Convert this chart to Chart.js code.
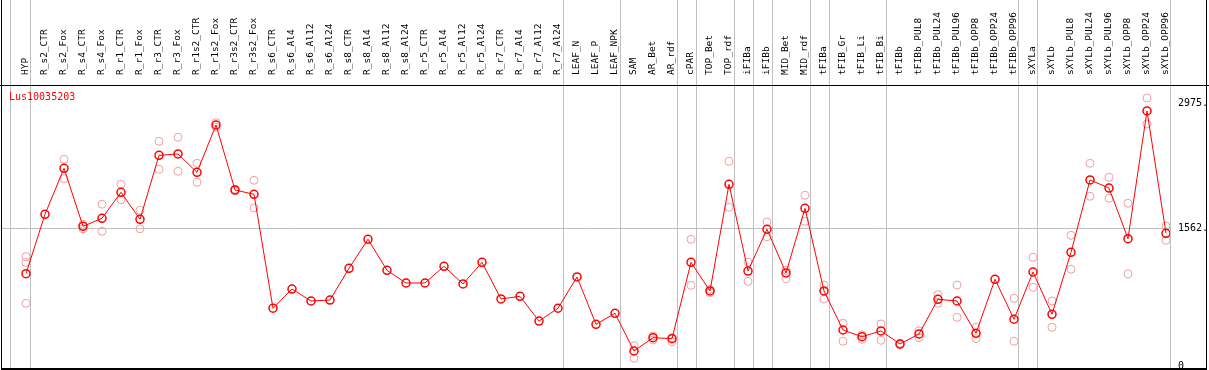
<!DOCTYPE html>
<html>
<head>
<meta charset="utf-8">
<script src="https://cdn.jsdelivr.net/npm/chart.js@4"></script>
<style>
  html, body { margin: 0; padding: 0; background: #fff; }
  #chart { display: block; }
</style>
</head>
<body>
<canvas id="chart" width="1209" height="370"></canvas>
<script>
// названия образцов (ось сверху)
const categories = [
  "HYP", "R_s2_CTR", "R_s2_Fox", "R_s4_CTR", "R_s4_Fox", "R_r1_CTR", "R_r1_Fox",
  "R_r3_CTR", "R_r3_Fox", "R_r1s2_CTR", "R_r1s2_Fox", "R_r3s2_CTR", "R_r3s2_Fox",
  "R_s6_CTR", "R_s6_Al4", "R_s6_Al12", "R_s6_Al24", "R_s8_CTR", "R_s8_Al4",
  "R_s8_Al12", "R_s8_Al24", "R_r5_CTR", "R_r5_Al4", "R_r5_Al12", "R_r5_Al24",
  "R_r7_CTR", "R_r7_Al4", "R_r7_Al12", "R_r7_Al24", "LEAF_N", "LEAF_P", "LEAF_NPK",
  "SAM", "AR_Bet", "AR_rdf", "cPAR", "TOP_Bet", "TOP_rdf", "iFIBa", "iFIBb",
  "MID_Bet", "MID_rdf", "tFIBa", "tFIB_Gr", "tFIB_Li", "tFIB_Bi", "tFIBb",
  "tFIBb_PUL8", "tFIBb_PUL24", "tFIBb_PUL96", "tFIBb_OPP8", "tFIBb_OPP24", "tFIBb_OPP96",
  "sXYLa", "sXYLb", "sXYLb_PUL8", "sXYLb_PUL24", "sXYLb_PUL96", "sXYLb_OPP8",
  "sXYLb_OPP24", "sXYLb_OPP96"
];

// средние значения
const meanValues = [
  1050, 1720, 2238, 1584, 1675, 1968, 1663, 2385, 2400, 2193, 2727, 1994, 1945,
  660, 877, 742, 753, 1111, 1438, 1088, 945, 945, 1133, 934, 1178,
  765, 795, 516, 660, 1013, 479, 603,
  178, 328, 317, 1178, 855, 2058, 1080, 1551, 1058, 1787,
  855, 415, 339, 404, 257, 370, 761, 742, 378, 987, 536,
  1069, 592, 1291, 2107, 2016, 1445, 2885, 1505
];

// повторности (null - не видно на картинке)
const repA = [
  1242, null, 2340, 1607, 1833, 2058, 1765, 2543, 2588, 2295, 2753, 1982, 2103,
  null, null, null, null, null, null, null, null, null, null, null, null,
  null, null, null, null, null, null, null,
  238, 347, 328, 1438, 836, 2317, 1182, 1633, 1092, 1934,
  922, 491, 359, 483, 265, 407, 813, 922, 445, null, 772,
  1235, 742, 1483, 2295, 2137, 1844, 3031, 1588
];
const repB = [
  1178, null, 2121, 1557, 1528, 1884, 1557, 2227, 2205, 2081, 2701, 2002, 1791,
  null, null, null, null, null, null, null, null, null, null, null, null,
  null, null, null, null, null, null, null,
  96, 302, 283, 919, 874, 1799, 964, 1467, 994, 1641,
  765, 288, 310, 299, 246, 328, 716, 558, 317, null, 288,
  897, 445, 1100, 1923, 1900, 1047, 2738, 1427
];
const repC = [716];

// границы групп (после индекса)
const groupBreaks = [-0.84, 0.22, 28.25, 31.24, 34.25, 35.25, 37.25, 38.25, 39.25, 41.25, 42.25, 45.25, 52.23, 53.23, 60.21];
const yTicks = [0, 1562, 2975];
const geneName = "Lus10035203";

function toPoints(arr) {
  return arr.map((v, i) => ({ x: i, y: v }));
}

const monoFont = "'DejaVu Sans Mono', monospace";

const framePlugin = {
  id: "frame",
  beforeDatasetsDraw(chart) {
    const ctx = chart.ctx;
    const xs = chart.scales.x;
    ctx.save();
    ctx.fillStyle = "#c0c0c0";
    groupBreaks.forEach((b) => {
      const px = Math.round(xs.getPixelForValue(b));
      ctx.fillRect(px, 0, 1, 369);
    });
    ctx.restore();
  },
  afterDraw(chart) {
    const ctx = chart.ctx;
    ctx.save();
    ctx.fillStyle = "#000";
    ctx.fillRect(0, 85, 1209, 1);
    ctx.fillRect(1, 0, 1, 370);
    ctx.fillRect(1206, 0, 1, 370);
    ctx.fillRect(1, 368, 1206, 2);
    ctx.fillStyle = "red";
    ctx.font = "10px " + monoFont;
    ctx.textBaseline = "middle";
    ctx.textAlign = "left";
    ctx.fillText(geneName, 9, 97);
    ctx.restore();
  }
};

const ctx = document.getElementById("chart").getContext("2d");
new Chart(ctx, {
  type: "line",
  data: {
    datasets: [
      {
        data: toPoints(meanValues),
        borderColor: "red",
        borderWidth: 1,
        pointRadius: 4,
        pointBorderWidth: 1.5,
        pointBorderColor: "red",
        pointBackgroundColor: "rgba(0,0,0,0)",
        tension: 0
      },
      {
        data: toPoints(repA),
        showLine: false,
        pointRadius: 4,
        pointBorderWidth: 1,
        pointBorderColor: "#f0a0a0",
        pointBackgroundColor: "rgba(0,0,0,0)"
      },
      {
        data: toPoints(repB),
        showLine: false,
        pointRadius: 4,
        pointBorderWidth: 1,
        pointBorderColor: "#f0a0a0",
        pointBackgroundColor: "rgba(0,0,0,0)"
      },
      {
        data: toPoints(repC),
        showLine: false,
        pointRadius: 4,
        pointBorderWidth: 1,
        pointBorderColor: "#f0a0a0",
        pointBackgroundColor: "rgba(0,0,0,0)"
      }
    ]
  },
  options: {
    responsive: false,
    animation: false,
    devicePixelRatio: 1,
    layout: { autoPadding: false, padding: { left: 1, right: 0, top: 0, bottom: 1 } },
    plugins: { legend: { display: false }, tooltip: { enabled: false } },
    scales: {
      x: {
        type: "linear",
        position: "top",
        min: -25 / 19,
        max: -25 / 19 + 1169 / 19,
        grid: { display: false },
        border: { display: false },
        afterBuildTicks(scale) {
          scale.ticks = categories.map((c, i) => ({ value: i }));
        },
        afterFit(scale) {
          scale.height = 85;
          scale.paddingLeft = 0;
          scale.paddingRight = 0;
        },
        ticks: {
          autoSkip: false,
          minRotation: 90,
          maxRotation: 90,
          padding: 2,
          labelOffset: 11,
          color: "#000",
          font: { family: monoFont, size: 9.5 },
          callback: (v) => categories[v] ?? ""
        }
      },
      y: {
        type: "linear",
        position: "right",
        min: -25,
        max: 3178,
        border: { display: false },
        grid: {
          drawTicks: false,
          color: (c) => (c.tick && c.tick.value === 1562 ? "#c0c0c0" : "rgba(0,0,0,0)")
        },
        afterBuildTicks(scale) {
          scale.ticks = yTicks.map((v) => ({ value: v }));
        },
        afterFit(scale) {
          scale.width = 39;
          scale.paddingTop = 0;
          scale.paddingBottom = 0;
        },
        ticks: {
          padding: 8,
          color: "#000",
          font: { family: monoFont, size: 10 },
          callback: (v) => (v === 0 ? "0" : v + ".")
        }
      }
    }
  },
  plugins: [framePlugin]
});
</script>
</body>
</html>
